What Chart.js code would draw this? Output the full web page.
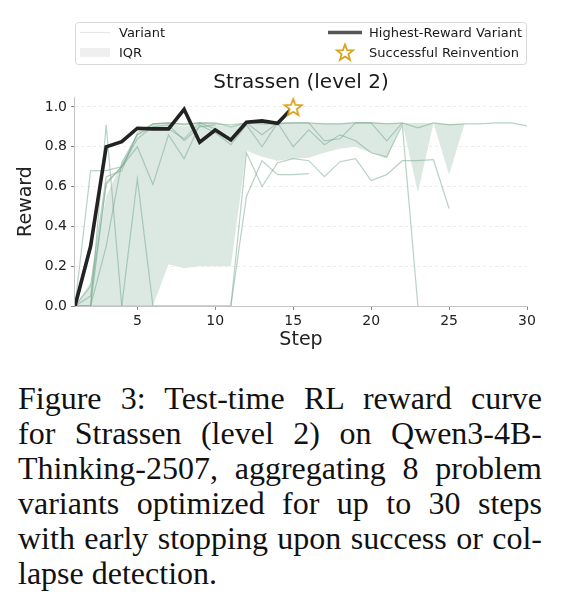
<!DOCTYPE html>
<html>
<head>
<meta charset="utf-8">
<script src="https://cdn.jsdelivr.net/npm/chart.js@4.4.1/dist/chart.umd.min.js"></script>
<style>
    html, body {
        margin: 0;
        padding: 0;
        background: #ffffff;
    }

    #wrap {
        position: relative;
        width: 561px;
        height: 595px;
    }

    #rewardChart {
        position: absolute;
        left: 0;
        top: 0;
    }

    #caption {
        position: absolute;
        left: 18px;
        top: 381px;
        width: 524px;
        font-family: "Liberation Serif", serif;
        font-size: 32px;
        line-height: 35px;
        color: #111;
    }

    #caption div {
        text-align: justify;
        text-align-last: justify;
        white-space: nowrap;
    }

    #caption div.last {
        text-align-last: left;
    }
</style>
</head>
<body>
<div id="wrap">
    <canvas id="rewardChart" width="561" height="362"></canvas>
    <div id="caption">
        <div>Figure 3: Test-time RL reward curve</div>
        <div>for Strassen (level 2) on Qwen3-4B-</div>
        <div>Thinking-2507, aggregating 8 problem</div>
        <div>variants optimized for up to 30 steps</div>
        <div>with early stopping upon success or col-</div>
        <div class="last">lapse detection.</div>
    </div>
</div>

<script>
// steps run 1..n for each series
const xTicks = [5, 10, 15, 20, 25, 30];
const yTicks = [0, 0.2, 0.4, 0.6, 0.8, 1.0];

const bestVariant = [0, 0.30, 0.80, 0.826, 0.893, 0.89, 0.89, 0.988, 0.823, 0.884, 0.834, 0.923, 0.93, 0.918, 1.0];
const successStep = 15;
const successReward = 1.0;

const variantA = [0, 0.68, 0.68, 0.70, 0.86, 0.915, 0.92, 0.915, 0.92, 0.915, 0.91, 0.92, 0.915, 0.915, 0.92,
    0.92, 0.915, 0.915, 0.92, 0.92, 0.915, 0.92, 0.895, 0.92, 0.91, 0.915, 0.915, 0.92, 0.92, 0.905];
const variantB = [0, 0, 0.91, 0, 0, 0, 0, 0, 0, 0, 0, 0.55, 0.73, 0.66, 0.66, 0.665];
const variantC = [0, 0, 0, 0, 0.64, 0, 0, 0, 0, 0, 0, 0.77, 0.60, 0.72, 0.74, 0.73, 0.65, 0.725, 0.74, 0.63,
    0.66, 0.73, 0.73, 0.735, 0.49];
const variantD = [0, 0.05, 0.61, 0.70, 0.80, 0.61, 0.86, 0.74, 0.91, 0.87, 0.81, 0.91, 0.80, 0.92, 0.80,
    0.885, 0.81, 0.86, 0.83, 0.77, 0.75, 0.91, 0];
const variantE = [0, 0, 0.30, 0.72, 0.86, 0.90, 0.89, 0.84, 0.92, 0.89, 0.84, 0.92, 0.86, 0.92, 0.92,
    0.92, 0.83, 0.84, 0.92, 0.92, 0.83, 0.92];
const variantF = [0, 0.10, 0.65, 0.68, 0.87, 0.915, 0.92, 0.91, 0.92, 0.92, 0.90, 0.92, 0.92, 0.92];
const variantG = [0, 0, 0.62, 0.70, 0.84, 0.90, 0.91, 0.83, 0.90, 0.91];

const iqrLow = [0, 0, 0, 0, 0, 0, 0.21, 0.19, 0.20, 0.20, 0.20, 0.78, 0.75, 0.73, 0.74, 0.745, 0.77, 0.79,
    0.80, 0.77, 0.74, 0.92, 0.57, 0.92, 0.66, 0.915, 0.915, 0.92, 0.92, 0.905];
const iqrHigh = [0, 0.12, 0.55, 0.72, 0.85, 0.915, 0.92, 0.90, 0.92, 0.91, 0.90, 0.92, 0.92, 0.92, 0.92,
    0.92, 0.92, 0.92, 0.925, 0.925, 0.92, 0.92, 0.92, 0.92, 0.915, 0.915, 0.915, 0.92, 0.92, 0.905];

const variantColor = "rgba(115, 165, 140, 0.5)";
const fillColor = "rgb(220, 233, 226)";
const starColor = "#d9a21b";
const fontName = "'DejaVu Sans', sans-serif";

const toPoints = (values) => {
    const points = [];
    for (let i = 0; i < values.length; i++) {
        points.push({ x: i + 1, y: values[i] });
    }
    return points;
};

const drawStarPath = (ctx, cx, cy, outer, inner) => {
    ctx.beginPath();
    for (let i = 0; i < 10; i++) {
        const r = i % 2 === 0 ? outer : inner;
        const a = -Math.PI / 2 + i * Math.PI / 5;
        const px = cx + r * Math.cos(a);
        const py = cy + r * Math.sin(a);
        if (i === 0) {
            ctx.moveTo(px, py);
        } else {
            ctx.lineTo(px, py);
        }
    }
    ctx.closePath();
};

const makeStar = (size) => {
    const c = document.createElement("canvas");
    c.width = size;
    c.height = size;
    const ctx = c.getContext("2d");
    drawStarPath(ctx, size / 2, size / 2 + 1, size / 2 - 2, (size / 2 - 2) * 0.42);
    ctx.fillStyle = "#ffffff";
    ctx.fill();
    ctx.lineWidth = 1.8;
    ctx.strokeStyle = starColor;
    ctx.lineJoin = "miter";
    ctx.stroke();
    return c;
};

const starImage = makeStar(22);

const variantSet = (values) => {
    return {
        data: toPoints(values),
        borderColor: variantColor,
        borderWidth: 1.2,
        pointRadius: 0,
        fill: false,
        tension: 0,
        order: 3
    };
};

// legend box + title drawn on top of the canvas
const decorPlugin = {
    id: "decor",
    afterDraw: (chart) => {
        const ctx = chart.ctx;
        const area = chart.chartArea;
        ctx.save();

        ctx.fillStyle = "#1a1a1a";
        ctx.font = "20px " + fontName;
        ctx.textAlign = "center";
        ctx.textBaseline = "alphabetic";
        ctx.fillText("Strassen (level 2)", (area.left + area.right) / 2, 88);

        ctx.strokeStyle = "#d8d8d8";
        ctx.lineWidth = 1;
        ctx.beginPath();
        ctx.roundRect(area.left + 0.5, 22.5, area.right - area.left - 1, 42, 3);
        ctx.stroke();

        ctx.lineCap = "butt";
        ctx.strokeStyle = "#e6e6e6";
        ctx.lineWidth = 1.2;
        ctx.beginPath();
        ctx.moveTo(80, 32.5);
        ctx.lineTo(110, 32.5);
        ctx.stroke();

        ctx.fillStyle = "#efefef";
        ctx.fillRect(80, 48, 30, 9);

        ctx.strokeStyle = "#555555";
        ctx.lineWidth = 3.5;
        ctx.beginPath();
        ctx.moveTo(328, 32.5);
        ctx.lineTo(362, 32.5);
        ctx.stroke();

        drawStarPath(ctx, 345, 53, 8.5, 3.6);
        ctx.fillStyle = "#ffffff";
        ctx.fill();
        ctx.lineWidth = 1.8;
        ctx.strokeStyle = starColor;
        ctx.stroke();

        ctx.fillStyle = "#1a1a1a";
        ctx.font = "13px " + fontName;
        ctx.textAlign = "left";
        ctx.fillText("Variant", 119, 37);
        ctx.fillText("IQR", 119, 57);
        ctx.fillText("Highest-Reward Variant", 369, 37);
        ctx.fillText("Successful Reinvention", 369, 57);

        // solid left spine
        ctx.strokeStyle = "#c4c4c4";
        ctx.lineWidth = 1;
        ctx.beginPath();
        ctx.moveTo(area.left - 0.5, area.top);
        ctx.lineTo(area.left - 0.5, area.bottom);
        ctx.stroke();

        ctx.restore();
    }
};

const canvas = document.querySelector("#rewardChart");

new Chart(canvas, {
    type: "line",
    data: {
        datasets: [
            {
                data: [{ x: successStep, y: successReward }],
                pointStyle: starImage,
                pointRadius: 11,
                showLine: false,
                order: 0
            },
            {
                data: toPoints(bestVariant),
                borderColor: "#222222",
                borderWidth: 3.6,
                pointRadius: 0,
                borderJoinStyle: "miter",
                fill: false,
                order: 1
            },
            variantSet(variantA),
            variantSet(variantB),
            variantSet(variantC),
            variantSet(variantD),
            variantSet(variantE),
            variantSet(variantF),
            variantSet(variantG),
            {
                data: toPoints(iqrHigh),
                borderWidth: 0,
                pointRadius: 0,
                backgroundColor: fillColor,
                fill: "+1",
                order: 5
            },
            {
                data: toPoints(iqrLow),
                borderWidth: 0,
                pointRadius: 0,
                fill: false,
                order: 6
            }
        ]
    },
    options: {
        responsive: false,
        animation: false,
        devicePixelRatio: 1,
        layout: {
            padding: { left: 0, right: 34, top: 97, bottom: 0 }
        },
        plugins: {
            legend: { display: false },
            tooltip: { enabled: false },
            title: { display: false }
        },
        scales: {
            x: {
                type: "linear",
                min: 1,
                max: 30,
                afterBuildTicks: (axis) => {
                    axis.ticks = xTicks.map((v) => ({ value: v }));
                },
                afterFit: (scale) => {
                    scale.height = 56;
                },
                grid: {
                    display: true,
                    drawOnChartArea: false,
                    drawTicks: true,
                    tickLength: 4,
                    tickColor: "#888888"
                },
                border: { display: true, color: "#c4c4c4", width: 1 },
                ticks: {
                    padding: 3,
                    maxRotation: 0,
                    color: "#222222",
                    font: { family: fontName, size: 14 }
                },
                title: {
                    display: true,
                    text: "Step",
                    color: "#222222",
                    padding: { top: 0, bottom: 11 },
                    font: { family: fontName, size: 19 }
                }
            },
            y: {
                min: 0,
                max: 1.05,
                afterBuildTicks: (axis) => {
                    axis.ticks = yTicks.map((v) => ({ value: v }));
                },
                afterFit: (scale) => {
                    scale.width = 75;
                },
                grid: {
                    display: true,
                    drawOnChartArea: true,
                    drawTicks: true,
                    tickLength: 4,
                    color: "#ececec",
                    tickColor: "#888888"
                },
                border: { display: false, dash: [3, 3] },
                ticks: {
                    padding: 4,
                    color: "#222222",
                    font: { family: fontName, size: 14 },
                    callback: (value) => Number(value).toFixed(1)
                },
                title: {
                    display: true,
                    text: "Reward",
                    color: "#222222",
                    padding: { top: 15, bottom: 0 },
                    font: { family: fontName, size: 19 }
                }
            }
        }
    },
    plugins: [decorPlugin]
});
</script>
</body>
</html>
